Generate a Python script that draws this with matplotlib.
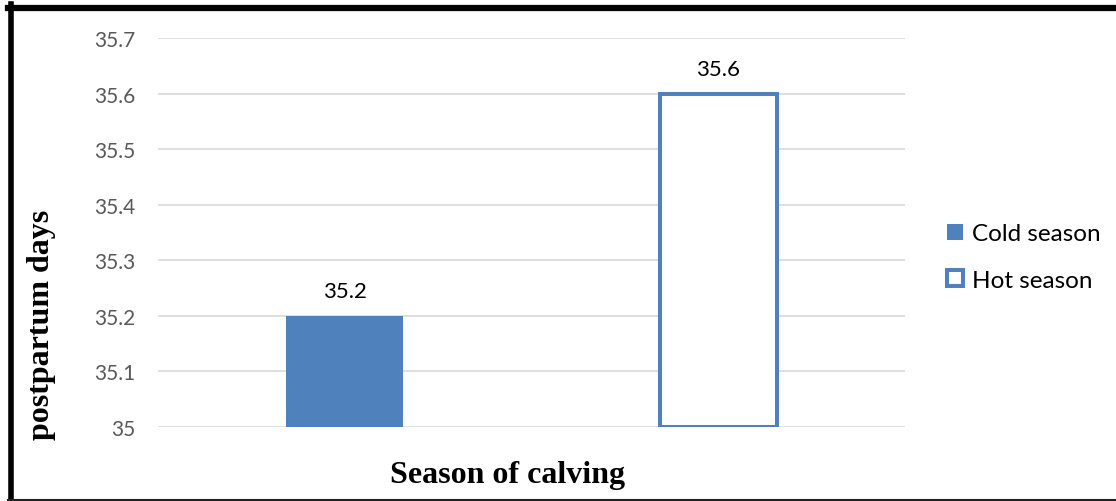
import matplotlib
matplotlib.use("Agg")
import matplotlib.pyplot as plt
from matplotlib.lines import Line2D
from matplotlib.patches import Patch

categories = ["Cold season", "Hot season"]
values = [35.2, 35.6]
yticks = [35.0, 35.1, 35.2, 35.3, 35.4, 35.5, 35.6, 35.7]
ytick_labels = ["35", "35.1", "35.2", "35.3", "35.4", "35.5", "35.6", "35.7"]

blue = "#4F81BD"
W, H = 1116, 502
fig = plt.figure(figsize=(W / 100, H / 100), dpi=100)
ax = fig.add_axes([158 / W, 1 - 428 / H, (905 - 158) / W, (428 - 39) / H])

positions = [0, 1]
bw = 0.313
ax.bar(positions[0], values[0] - 35, bottom=35, width=bw, color=blue,
       edgecolor="none", zorder=3)
ax.bar(positions[1], values[1] - 35, bottom=35, width=bw, facecolor="white",
       edgecolor=blue, linewidth=2.9, zorder=3)

for p, v in zip(positions, values):
    ax.text(p, v + 0.026, f"{v:.1f}", ha="center", va="bottom",
            fontsize=16, family="Lato", color="#000000")

ax.set_xlim(-0.5, 1.5)
ax.set_ylim(35.0, 35.7)
ax.set_yticks(yticks)
ax.set_yticklabels(ytick_labels, family="Lato", fontsize=15, color="#595959")
ax.set_xticks([])
ax.tick_params(axis="y", length=0, pad=16.5)
ax.grid(axis="y", color="#D9D9D9", linewidth=1.2, zorder=0)
for s in ax.spines.values():
    s.set_visible(False)

fig.text(42 / W, 1 - 325 / H, "postpartum days", rotation=90, ha="center",
         va="center", family="Liberation Serif", fontweight="bold", fontsize=23)
fig.text(508 / W, 1 - 476 / H, "Season of calving", ha="center", va="center",
         family="Liberation Serif", fontweight="bold", fontsize=23)

handles = [Patch(facecolor=blue, edgecolor="none"),
           Patch(facecolor="white", edgecolor=blue, linewidth=2.9)]
fig.legend(handles, categories, loc="center left",
           bbox_to_anchor=(947 / W, 1 - 258 / H), frameon=False,
           prop={"family": "Lato", "size": 17.5}, handlelength=0.64,
           handleheight=0.64, handletextpad=0.4, labelspacing=1.05,
           borderpad=0, borderaxespad=0)

# outer frame
fig.add_artist(Line2D([10.5 / W, 10.5 / W], [0, 1 - 5 / H], color="black",
                      linewidth=4, transform=fig.transFigure))
fig.add_artist(Line2D([8 / W, 1], [1 - 8.5 / H, 1 - 8.5 / H], color="black",
                      linewidth=4.5, transform=fig.transFigure))
fig.add_artist(Line2D([8 / W, 1], [1 / H, 1 / H], color="#222222",
                      linewidth=1.5, transform=fig.transFigure))

fig.savefig("out.png", dpi=100)
